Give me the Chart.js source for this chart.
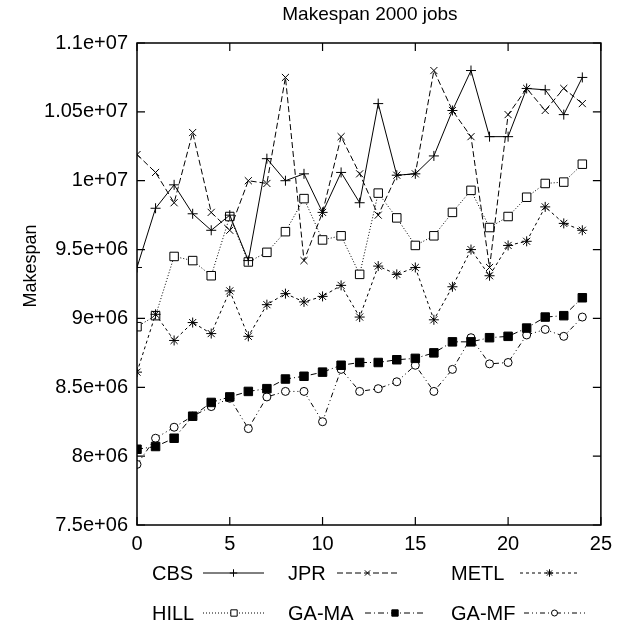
<!DOCTYPE html>
<html>
<head>
<meta charset="utf-8">
<script src="https://cdn.jsdelivr.net/npm/chart.js@4/dist/chart.umd.min.js"></script>
<style>
  html, body { margin: 0; padding: 0; background: #fff; }
  #wrap { width: 619px; height: 625px; }
</style>
</head>
<body>
<div id="wrap"><canvas id="chart" width="619" height="625"></canvas></div>
<script>
// run index on the x axis
const runs = [0, 1, 2, 3, 4, 5, 6, 7, 8, 9, 10, 11, 12, 13, 14, 15, 16, 17, 18, 19, 20, 21, 22, 23, 24];

// makespan values
const cbs  = [9.37e6, 9.80e6, 9.97e6, 9.76e6, 9.64e6, 9.75e6, 9.42e6, 10.16e6, 10.00e6, 10.05e6, 9.77e6, 10.06e6, 9.84e6,
              10.56e6, 10.04e6, 10.05e6, 10.18e6, 10.51e6, 10.80e6, 10.32e6, 10.32e6, 10.67e6, 10.66e6, 10.48e6, 10.75e6];
const jpr  = [10.19e6, 10.06e6, 9.84e6, 10.35e6, 9.77e6, 9.64e6, 10.00e6, 9.98e6, 10.75e6, 9.42e6, 9.77e6, 10.32e6, 10.05e6,
              9.75e6, 10.04e6, 10.05e6, 10.80e6, 10.51e6, 10.32e6, 9.37e6, 10.48e6, 10.67e6, 10.51e6, 10.67e6, 10.56e6];
const metl = [8.61e6, 9.03e6, 8.84e6, 8.97e6, 8.89e6, 9.20e6, 8.87e6, 9.10e6, 9.18e6, 9.12e6, 9.16e6, 9.24e6, 9.01e6,
              9.38e6, 9.32e6, 9.37e6, 8.99e6, 9.23e6, 9.50e6, 9.31e6, 9.53e6, 9.56e6, 9.81e6, 9.69e6, 9.64e6];
const hill = [8.94e6, 9.02e6, 9.45e6, 9.42e6, 9.31e6, 9.74e6, 9.41e6, 9.48e6, 9.63e6, 9.87e6, 9.57e6, 9.60e6, 9.32e6,
              9.91e6, 9.73e6, 9.53e6, 9.60e6, 9.77e6, 9.93e6, 9.66e6, 9.74e6, 9.88e6, 9.98e6, 9.99e6, 10.12e6];
const gaMa = [8.05e6, 8.07e6, 8.13e6, 8.29e6, 8.39e6, 8.43e6, 8.47e6, 8.49e6, 8.56e6, 8.58e6, 8.61e6, 8.66e6, 8.68e6,
              8.68e6, 8.70e6, 8.71e6, 8.75e6, 8.83e6, 8.83e6, 8.86e6, 8.87e6, 8.93e6, 9.01e6, 9.02e6, 9.15e6];
const gaMf = [7.94e6, 8.13e6, 8.21e6, 8.29e6, 8.36e6, 8.42e6, 8.20e6, 8.43e6, 8.47e6, 8.47e6, 8.25e6, 8.63e6, 8.47e6,
              8.49e6, 8.54e6, 8.66e6, 8.47e6, 8.63e6, 8.86e6, 8.67e6, 8.68e6, 8.88e6, 8.92e6, 8.87e6, 9.01e6];

const xTicks = [0, 5, 10, 15, 20, 25];
const yTicks = [7.5e6, 8e6, 8.5e6, 9e6, 9.5e6, 1e7, 1.05e7, 1.1e7];

const FONT = '"Liberation Sans", Arial, sans-serif';

// gnuplot style labels like 9.5e+06
function sciLabel(v) {
  const e = Math.floor(Math.log10(v) + 1e-9);
  const m = parseFloat((v / Math.pow(10, e)).toFixed(3));
  return m + 'e+' + String(e).padStart(2, '0');
}

function series(label, values, style) {
  return Object.assign({
    label: label,
    data: runs.map((r, i) => ({ x: r, y: values[i] })),
    borderColor: '#000',
    borderWidth: 1,
    pointBorderColor: '#000',
    pointBorderWidth: 1,
    pointBackgroundColor: '#fff',
    tension: 0,
    fill: false
  }, style);
}

const datasets = [
  series('CBS', cbs, { pointStyle: 'cross', pointRadius: 5, borderDash: [] }),
  series('JPR', jpr, { pointStyle: 'crossRot', pointRadius: 5, borderDash: [6, 3] }),
  series('METL', metl, { pointStyle: 'star', pointRadius: 5, borderDash: [3, 3] }),
  series('HILL', hill, { pointStyle: 'rect', pointRadius: 6, borderDash: [1, 2] }),
  series('GA-MA', gaMa, { pointStyle: 'rect', pointRadius: 6, pointBackgroundColor: '#000', borderDash: [6, 3, 1, 3] }),
  series('GA-MF', gaMf, { pointStyle: 'circle', pointRadius: 4, borderDash: [5, 3, 1, 3, 1, 3] })
];

// legend slots: text x, line sample start/end, row y (same order as datasets)
const legendSlots = [
  { tx: 152, lx0: 203, lx1: 264, y: 573 },
  { tx: 288, lx0: 337, lx1: 398, y: 573 },
  { tx: 451, lx0: 520, lx1: 579, y: 573 },
  { tx: 152, lx0: 203, lx1: 265, y: 613 },
  { tx: 288, lx0: 365, lx1: 425, y: 613 },
  { tx: 451, lx0: 524, lx1: 585, y: 613 }
];

// frame, inward ticks, title, y title and the legend under the axis
const decorPlugin = {
  id: 'decor',
  afterDraw(chart) {
    const ctx = chart.ctx;
    const a = chart.chartArea;
    const xs = chart.scales.x, ys = chart.scales.y;
    ctx.save();
    ctx.strokeStyle = '#000';
    ctx.lineWidth = 1.5;
    ctx.setLineDash([]);
    ctx.strokeRect(a.left, a.top, a.right - a.left, a.bottom - a.top);
    ctx.lineWidth = 1.2;
    ctx.beginPath();
    yTicks.forEach(v => {
      const y = ys.getPixelForValue(v);
      ctx.moveTo(a.left, y); ctx.lineTo(a.left + 8, y);
      ctx.moveTo(a.right, y); ctx.lineTo(a.right - 8, y);
    });
    xTicks.forEach(v => {
      const x = xs.getPixelForValue(v);
      ctx.moveTo(x, a.bottom); ctx.lineTo(x, a.bottom - 8);
      ctx.moveTo(x, a.top); ctx.lineTo(x, a.top + 8);
    });
    ctx.stroke();

    ctx.fillStyle = '#000';
    ctx.font = '19px ' + FONT;
    ctx.textAlign = 'center';
    ctx.textBaseline = 'middle';
    ctx.fillText('Makespan 2000 jobs', (a.left + a.right) / 2 + 1, 15);

    ctx.save();
    ctx.translate(31, 266);
    ctx.rotate(-Math.PI / 2);
    ctx.font = '18px ' + FONT;
    ctx.fillText('Makespan', 0, 0);
    ctx.restore();

    // legend: label, then a line sample with the marker in the middle
    ctx.font = '20px ' + FONT;
    ctx.textAlign = 'left';
    chart.data.datasets.forEach((ds, i) => {
      const s = legendSlots[i];
      ctx.fillStyle = '#000';
      ctx.fillText(ds.label, s.tx, s.y + 1);
      ctx.lineWidth = 1;
      ctx.setLineDash(ds.borderDash);
      ctx.beginPath();
      ctx.moveTo(s.lx0, s.y); ctx.lineTo(s.lx1, s.y);
      ctx.stroke();
      ctx.setLineDash([]);
      ctx.fillStyle = ds.pointBackgroundColor;
      ctx.strokeStyle = '#000';
      Chart.helpers.drawPoint(ctx, {
        pointStyle: ds.pointStyle,
        radius: ds.pointRadius * 0.75,
        borderWidth: 1,
        rotation: 0
      }, (s.lx0 + s.lx1) / 2, s.y);
    });
    ctx.restore();
  }
};

new Chart(document.getElementById('chart'), {
  type: 'line',
  data: { datasets: datasets },
  options: {
    responsive: false,
    animation: false,
    layout: { padding: { left: 0, top: 43, right: 18, bottom: 0 } },
    plugins: {
      legend: { display: false },
      title: { display: false },
      tooltip: { enabled: false }
    },
    scales: {
      x: {
        type: 'linear',
        min: 0,
        max: 25,
        grid: { display: false, drawTicks: false },
        border: { display: false },
        afterFit(scale) { scale.height = 100; },
        afterBuildTicks(scale) { scale.ticks = xTicks.map(v => ({ value: v })); },
        ticks: {
          color: '#000',
          padding: 7,
          maxRotation: 0,
          font: { family: FONT, size: 20 }
        }
      },
      y: {
        type: 'linear',
        min: 7.5e6,
        max: 1.1e7,
        grid: { display: false, drawTicks: false },
        border: { display: false },
        afterFit(scale) { scale.width = 137; },
        afterBuildTicks(scale) { scale.ticks = yTicks.map(v => ({ value: v })); },
        ticks: {
          color: '#000',
          padding: 9,
          font: { family: FONT, size: 20 },
          callback: v => sciLabel(v)
        }
      }
    }
  },
  plugins: [decorPlugin]
});
</script>
</body>
</html>
